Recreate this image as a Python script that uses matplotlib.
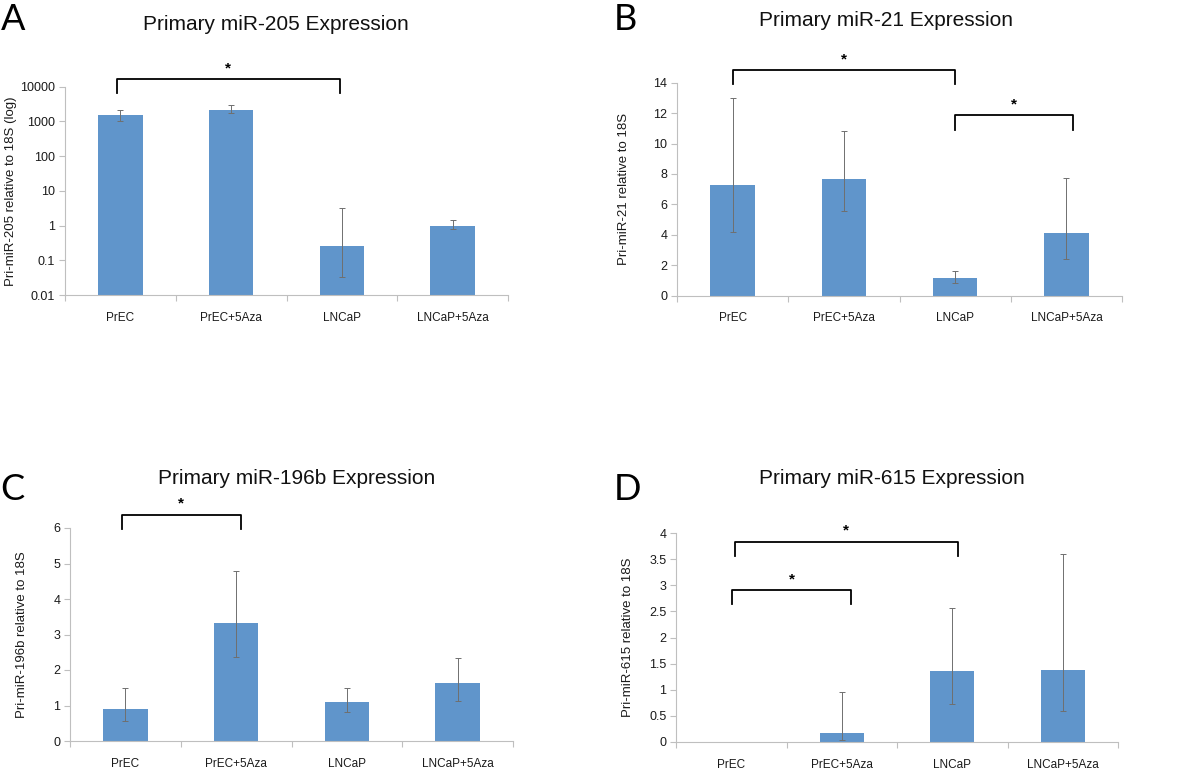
import numpy as np
import matplotlib
matplotlib.use("Agg")
import matplotlib.pyplot as plt

plt.rcParams['font.family'] = ['Liberation Sans', 'DejaVu Sans']

categories = ['PrEC', 'PrEC+5Aza', 'LNCaP', 'LNCaP+5Aza']

# panel A (log scale)
a_vals = [1500, 2200, 0.26, 0.95]
a_low = [1000, 1700, 0.032, 0.80]
a_high = [2200, 3000, 3.3, 1.45]

# panel B
b_vals = [7.3, 7.7, 1.15, 4.1]
b_low = [4.2, 5.6, 0.85, 2.4]
b_high = [13.0, 10.85, 1.65, 7.75]

# panel C
c_vals = [0.9, 3.32, 1.1, 1.62]
c_low = [0.55, 2.38, 0.83, 1.14]
c_high = [1.48, 4.8, 1.5, 2.35]

# panel D
d_vals = [0.0, 0.18, 1.35, 1.38]
d_low = [np.nan, 0.04, 0.72, 0.60]
d_high = [np.nan, 0.95, 2.57, 3.6]

W, H = 1200, 772
BAR = '#6095CB'
GRID = '#BFBFBF'


def box(l, t, r, b):
    return [l / W, (H - b) / H, (r - l) / W, (b - t) / H]


def ftext(x, y, s, **kw):
    fig.text(x / W, (H - y) / H, s, **kw)


def panel(rect, vals, low, high, ylab, ylim, yticks, labx, log=False):
    ax = fig.add_axes(rect)
    x = np.arange(len(categories))
    vals = np.array(vals, float)
    low = np.array(low, float)
    high = np.array(high, float)
    if log:
        ax.set_yscale('log')
        ax.bar(x, vals - ylim[0], 0.4, bottom=ylim[0], color=BAR, zorder=2)
    else:
        ax.bar(x, vals, 0.4, color=BAR, zorder=2)
    ax.errorbar(x, vals, yerr=[vals - low, high - vals], fmt='none',
                ecolor='#6f6f6f', elinewidth=0.7, capsize=2.5,
                capthick=0.7, zorder=3)
    ax.set_xlim(-0.5, 3.5)
    ax.set_ylim(*ylim)
    ax.set_yticks(yticks)
    ax.set_yticklabels(['%g' % t for t in yticks])
    ax.minorticks_off()
    ax.set_xticks(x)
    ax.set_xticklabels(categories)
    ax.set_xticks(np.arange(-0.5, 4, 1), minor=True)
    ax.tick_params(axis='x', which='major', length=0, pad=12, labelsize=8.5,
                   colors='#1a1a1a')
    ax.tick_params(axis='x', which='minor', length=4, color=GRID, width=0.8)
    ax.tick_params(axis='y', length=4, color=GRID, width=0.8, labelsize=9,
                   colors='#1a1a1a', pad=3)
    for s in ['top', 'right']:
        ax.spines[s].set_visible(False)
    for s in ['left', 'bottom']:
        ax.spines[s].set_color(GRID)
        ax.spines[s].set_linewidth(0.8)
    ax.set_ylabel(ylab, fontsize=9.5, color='#1a1a1a', va='center')
    ax.yaxis.set_label_coords(labx, 0.5)
    return ax


def bracket(ax, i, j, top, tip, star_y):
    ax.plot([i, i, j, j], [tip, top, top, tip], color='black', lw=1.3,
            clip_on=False, zorder=4)
    ax.text((i + j) / 2, star_y, '*', ha='center', va='center',
            fontsize=11, fontweight='bold', clip_on=False)


fig = plt.figure(figsize=(12, 7.72), dpi=100)

axA = panel(box(65, 86.7, 508, 295), a_vals, a_low, a_high,
            'Pri-miR-205 relative to 18S (log)', (0.01, 10000),
            [0.01, 0.1, 1, 10, 100, 1000, 10000], -0.122, log=True)
bracket(axA, -0.03, 1.98, 16600, 6600, 34600)

axB = panel(box(677, 82.7, 1122, 295.7), b_vals, b_low, b_high,
            'Pri-miR-21 relative to 18S', (0, 14), list(range(0, 15, 2)), -0.119)
bracket(axB, 0.0, 2.0, 14.83, 13.9, 15.55)
bracket(axB, 2.0, 3.06, 11.9, 10.9, 12.6)

axC = panel(box(70, 528, 513, 741), c_vals, c_low, c_high,
            'Pri-miR-196b relative to 18S', (0, 6), list(range(0, 7)), -0.108)
bracket(axC, -0.03, 1.04, 6.37, 5.97, 6.7)

axD = panel(box(676, 533, 1118, 742), d_vals, d_low, d_high,
            'Pri-miR-615 relative to 18S', (0, 4),
            [0, 0.5, 1, 1.5, 2, 2.5, 3, 3.5, 4], -0.109)
bracket(axD, 0.03, 2.05, 3.83, 3.56, 4.04)
bracket(axD, 0.01, 1.08, 2.91, 2.64, 3.12)

tkw = dict(ha='center', va='center', fontsize=15, color='#111111')
ftext(276, 24, 'Primary miR-205 Expression', **tkw)
ftext(886, 21, 'Primary miR-21 Expression', **tkw)
ftext(297, 478, 'Primary miR-196b Expression', **tkw)
ftext(892, 478, 'Primary miR-615 Expression', **tkw)

lkw = dict(ha='left', va='center', fontsize=26, family=['Lato', 'DejaVu Sans'],
           color='black')
ftext(1, 20, 'A', **lkw)
ftext(614, 20, 'B', **lkw)
ftext(0, 489, 'C', **lkw)
ftext(614, 489, 'D', **lkw)

fig.savefig('out.png', dpi=100, facecolor='white')
